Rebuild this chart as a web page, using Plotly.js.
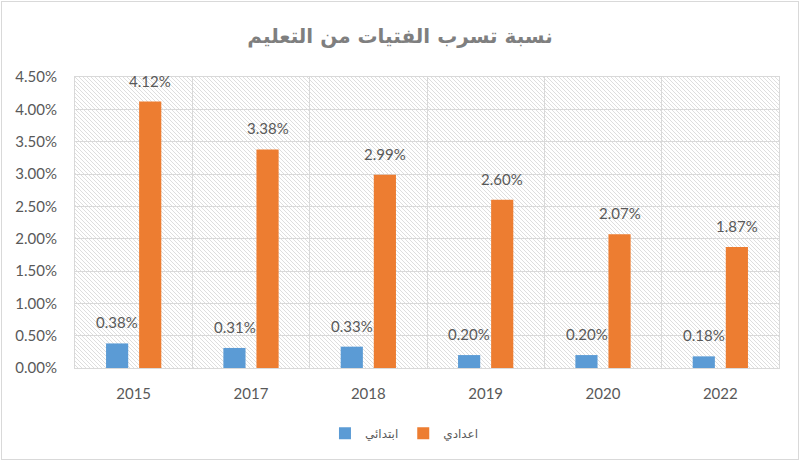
<!DOCTYPE html>
<html>
<head>
<meta charset="utf-8">
<script src="https://cdn.plot.ly/plotly-3.0.1.min.js"></script>
<style>
  html, body { margin: 0; padding: 0; background: #fff; }
  #frame { position: absolute; left: 1px; top: 1px; width: 796px; height: 457px; border: 1px solid #d9d9d9; }
  #chart { position: absolute; left: -2px; top: -2px; width: 800px; height: 462px; }
</style>
</head>
<body>
<div id="frame"><div id="chart"></div></div>
<script>
  // years and drop-out rates (fraction)
  const years = ['2015', '2017', '2018', '2019', '2020', '2022'];
  const primary = [0.0038, 0.0031, 0.0033, 0.0020, 0.0020, 0.0018];
  const prep = [0.0412, 0.0338, 0.0299, 0.0260, 0.0207, 0.0187];
  const primaryName = 'ابتدائي';
  const prepName = 'اعدادي';
  const titleText = 'نسبة تسرب الفتيات من التعليم';

  const gray = '#595959';
  const font = 'Lato, "DejaVu Sans", sans-serif';

  // hatched plot background
  const hatch = '<svg xmlns="http://www.w3.org/2000/svg" width="704" height="291">' +
    '<defs><pattern id="p" width="4" height="4" patternUnits="userSpaceOnUse">' +
    '<path d="M-1,-1 L5,5 M3,-1 L5,1 M-1,3 L1,5" stroke="#d6d6d6" stroke-width="0.8"/></pattern></defs>' +
    '<rect width="704" height="291" fill="url(#p)"/></svg>';

  const traces = [
    {type: 'bar', name: primaryName, x: years, y: primary, marker: {color: '#5B9BD5'}, hoverinfo: 'skip'},
    {type: 'bar', name: prepName, x: years, y: prep, marker: {color: '#ED7D31'}, hoverinfo: 'skip'}
  ];

  // value labels above each bar (x = category index)
  const annotations = [];
  [[primary, -16.5], [prep, 16.5]].forEach(([vals, dx]) => {
    vals.forEach((v, i) => {
      annotations.push({
        x: i, y: v, xref: 'x', yref: 'y',
        text: (v * 100).toFixed(2) + '%',
        showarrow: false, xshift: dx, yshift: 10, yanchor: 'bottom',
        font: {family: font, size: 15, color: gray}
      });
    });
  });

  const layout = {
    width: 800, height: 462,
    margin: {l: 75, r: 21, t: 77, b: 94},
    paper_bgcolor: 'rgba(0,0,0,0)',
    plot_bgcolor: 'rgba(0,0,0,0)',
    title: {
      text: '<b>' + titleText + '</b>',
      x: 0.5, xanchor: 'center', y: 0.922, yanchor: 'middle',
      font: {family: '"DejaVu Sans", sans-serif', size: 20, color: '#7f7f7f'}
    },
    barmode: 'group',
    bargap: 0.436,
    bargroupgap: 0.33,
    xaxis: {
      type: 'category', range: [-0.5, 5.5], tickson: 'boundaries', ticklen: 0,
      showgrid: true, gridcolor: '#d9d9d9', gridwidth: 1,
      showline: true, linecolor: '#d9d9d9', mirror: true,
      tickfont: {family: font, size: 15, color: gray},
      ticklabelstandoff: 12
    },
    yaxis: {
      range: [0, 0.045], dtick: 0.005, tickformat: '.2%',
      showgrid: true, gridcolor: '#d9d9d9', gridwidth: 1,
      showline: true, linecolor: '#d9d9d9', mirror: true,
      zeroline: false, ticklen: 0, ticklabelstandoff: 14,
      tickfont: {family: font, size: 15, color: gray}
    },
    showlegend: true,
    legend: {
      orientation: 'h', x: 0.468, xanchor: 'center', y: -0.224, yanchor: 'middle',
      font: {family: '"DejaVu Sans", sans-serif', size: 12, color: gray},
      itemwidth: 30
    },
    images: [{
      source: 'data:image/svg+xml;charset=utf-8,' + encodeURIComponent(hatch),
      xref: 'paper', yref: 'paper', x: 0, y: 1, sizex: 1, sizey: 1,
      sizing: 'stretch', layer: 'below'
    }],
    annotations: annotations
  };

  Plotly.newPlot('chart', traces, layout, {displayModeBar: false, staticPlot: true});
</script>
</body>
</html>
